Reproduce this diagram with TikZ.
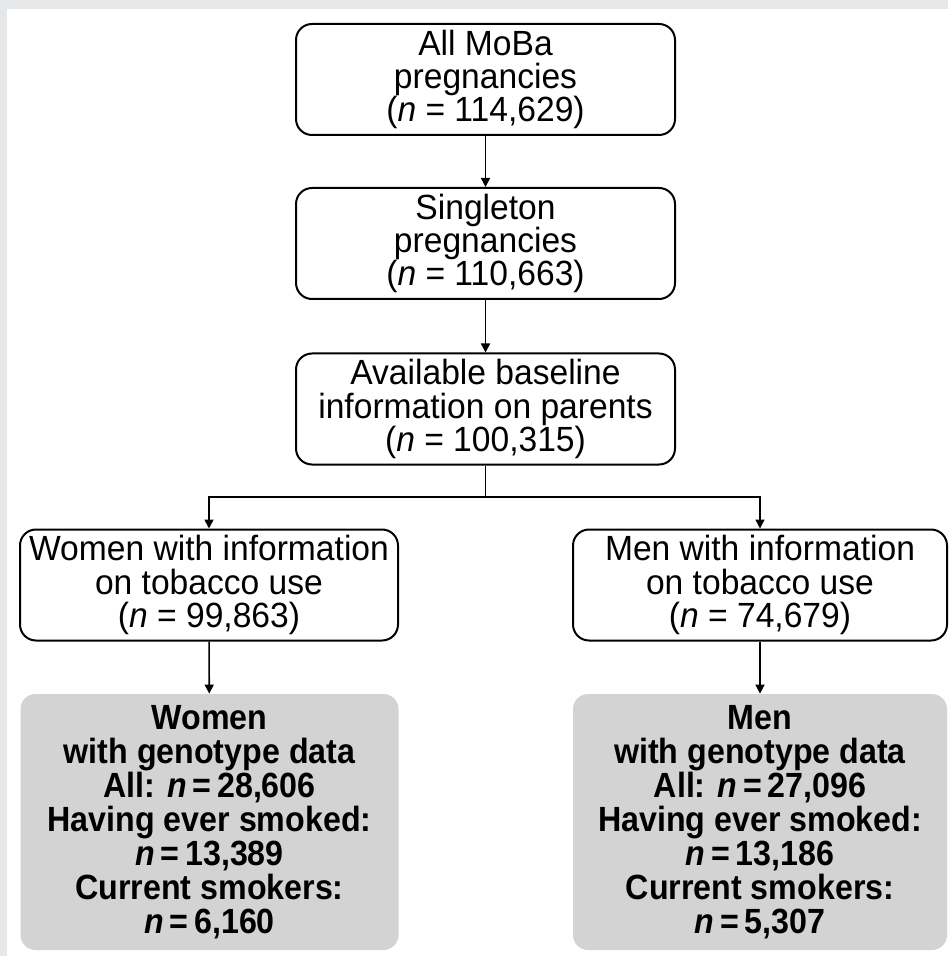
\documentclass[tikz,border=0pt]{standalone}
\usepackage{fontspec}
\setmainfont{Liberation Sans}
\newfontfamily\flowfont[FakeStretch=0.96]{Liberation Sans}
\newfontfamily\genofont[FakeStretch=0.92]{Liberation Sans}
\usetikzlibrary{arrows.meta}

\definecolor{framegray}{HTML}{E6E7E9}
\definecolor{genogray}{HTML}{D3D3D3}

\tikzset{
  flowbox/.style={draw, line width=1pt, rounded corners=8pt, align=center,
    inner sep=0pt, minimum width=189.5pt, minimum height=55.5pt,
    font=\flowfont\fontsize{17.5}{16.6}\selectfont},
  genobox/.style={fill=genogray, rounded corners=7.5pt, align=center,
    inner sep=0pt, minimum width=189pt, minimum height=128pt,
    font=\genofont\bfseries\fontsize{17.5}{17}\selectfont},
  flowarrow/.style={line width=0.8pt, -{Triangle[length=4.5pt,width=4.5pt]}}
}

\begin{document}
\begin{tikzpicture}[x=0.5pt,y=-0.5pt]

\fill[framegray] (0,0) rectangle (948,956);
\fill[white] (7,9) rectangle (948,956);
\useasboundingbox (0,0) rectangle (948,956);

\node[flowbox] (allmoba) at (485.5,79.5) {All MoBa\\pregnancies\\(\textit{n} = 114,629)};
\node[flowbox] (singleton) at (485.5,243.5) {Singleton\\pregnancies\\(\textit{n} = 110,663)};
\node[flowbox] (baseline) at (485.5,409) {Available baseline\\information on parents\\(\textit{n} = 100,315)};
\node[flowbox, minimum width=189pt] (women) at (209,585) {Women with information\\on tobacco use\\(\textit{n} = 99,863)};
\node[flowbox, minimum width=187pt] (men) at (760,585) {Men with information\\on tobacco use\\(\textit{n} = 74,679)};
\node[genobox] (womengeno) at (209.5,822) {Women\\with genotype data\\All: \textit{n}\,=\,28,606\\Having ever smoked:\\\textit{n}\,=\,13,389\\Current smokers:\\\textit{n}\,=\,6,160};
\node[genobox, minimum width=187pt] (mengeno) at (760,822) {Men\\with genotype data\\All: \textit{n}\,=\,27,096\\Having ever smoked:\\\textit{n}\,=\,13,186\\Current smokers:\\\textit{n}\,=\,5,307};
\coordinate (fork) at (485.5,497);

\draw[flowarrow] (allmoba) -- (singleton);
\draw[flowarrow] (singleton) -- (baseline);
\draw[line width=0.8pt] (baseline) -- (fork);
\draw[flowarrow] (fork) -| (women);
\draw[flowarrow] (fork) -| (men);
\draw[flowarrow] (women) -- (womengeno);
\draw[flowarrow] (men) -- (mengeno);

\end{tikzpicture}
\end{document}
